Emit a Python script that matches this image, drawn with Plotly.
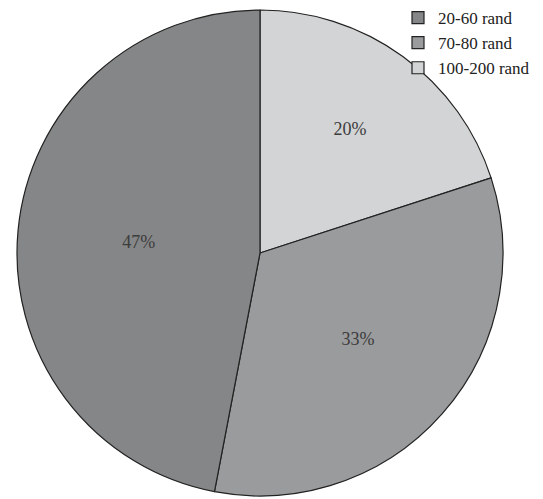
import plotly.graph_objects as go

# Share of prices by band (listed in legend order)
bands = ["20-60 rand", "70-80 rand", "100-200 rand"]
shares = [47, 33, 20]
colors = ["#858687", "#9a9b9c", "#d3d4d5"]

W, H = 543, 499

# Slices run clockwise from 12 o'clock starting with the top band,
# so the trace is fed in reverse and the legend is flipped back.
fig = go.Figure(
    go.Pie(
        labels=bands[::-1],
        values=shares[::-1],
        sort=False,
        direction="clockwise",
        rotation=0,
        marker=dict(colors=colors[::-1], line=dict(color="#222222", width=1.2)),
        texttemplate="%{percent:.0%}",
        textposition="inside",
        insidetextorientation="horizontal",
        textfont=dict(family="Liberation Serif", size=18, color="#3c3c3c"),
        domain=dict(x=[17 / W, 503 / W], y=[3 / H, 489 / H]),
        hoverinfo="label+percent",
    )
)

fig.update_layout(
    width=W,
    height=H,
    margin=dict(l=0, r=0, t=0, b=0, autoexpand=False),
    paper_bgcolor="white",
    plot_bgcolor="white",
    font=dict(family="Liberation Serif", size=17, color="#222222"),
    showlegend=True,
    legend=dict(
        x=398 / W,
        y=1,
        xanchor="left",
        yanchor="top",
        traceorder="reversed",
        bgcolor="rgba(0,0,0,0)",
        itemwidth=30,
        font=dict(family="Liberation Serif", size=17, color="#222222"),
    ),
)

fig.write_html("out.html")
